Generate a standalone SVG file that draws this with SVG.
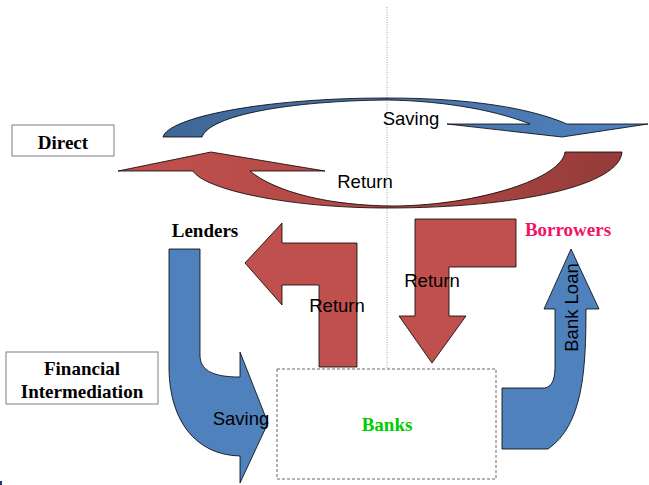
<svg xmlns="http://www.w3.org/2000/svg" width="649" height="485" viewBox="0 0 649 485">
<style>
.lbl{font-family:"Liberation Serif","Times New Roman",serif;font-weight:bold;font-size:19px;text-anchor:middle}
.atxt{font-family:"Liberation Sans",Arial,sans-serif;font-size:18.5px;fill:#000;text-anchor:middle}
.box{fill:#fff;stroke:#7f7f7f;stroke-width:1}
.arr{stroke:#000;stroke-width:0.8;stroke-linejoin:miter}
.blue{fill:#4F81BD}
.red{fill:#C0504D}
</style>
<defs>
<linearGradient id="gBlue" gradientUnits="userSpaceOnUse" x1="163" y1="0" x2="648" y2="0">
<stop offset="0" stop-color="#3F6797"/>
<stop offset="0.5" stop-color="#4874AA"/>
<stop offset="1" stop-color="#4F81BD"/>
</linearGradient>
<linearGradient id="gRed" gradientUnits="userSpaceOnUse" x1="118" y1="0" x2="622" y2="0">
<stop offset="0" stop-color="#C0504D"/>
<stop offset="0.55" stop-color="#B24845"/>
<stop offset="1" stop-color="#943B39"/>
</linearGradient>
</defs>
<rect width="649" height="485" fill="#fff"/>
<line x1="387" y1="7" x2="387" y2="369" stroke="#a0a0a0" stroke-width="1" stroke-dasharray="1,1.5"/>
<rect x="0" y="481" width="2" height="4" fill="#1F3864"/>
<g id="connectors">
<g id="direct-saving">
<path class="arr" fill="url(#gBlue)" d="M163,137 C168,118 260,98 387,98 C470,98 530,108 567,124 L648,124 L562,137 L447,124 L530,124 C500,112 450,101 387,100 C290,101 210,115 202,137 Z"/>
<text class="atxt" x="411" y="125">Saving</text>
</g>
<g id="direct-return">
<path class="arr" fill="url(#gRed)" d="M622,152 C620,185 520,208 387,208 C290,208 205,190 193,171 L118,171 L211,152 L325,171 L250,171 C275,192 330,206 395,206 C480,205 562,178 565,152 Z"/>
<text class="atxt" x="365" y="188">Return</text>
</g>
<g id="banks-return-lenders">
<polygon class="arr red" points="245,263 282,223 282,243 357,243 357,367 319,367 319,285 282,285 282,305"/>
<text class="atxt" x="337" y="312">Return</text>
</g>
<g id="borrowers-return-banks">
<polygon class="arr red" points="415,219 516,219 516,267 449,267 449,316 466,316 432,363 399,316 415,316"/>
<text class="atxt" x="432" y="287">Return</text>
</g>
<g id="lenders-saving-banks">
<path class="arr blue" d="M169,249 L200,249 L200,355 C200,370 212,377 240,377 L240,352 L268,423 L240,483 L240,456 C195,455 170,420 169,370 Z"/>
<text class="atxt" x="241" y="425">Saving</text>
</g>
<g id="banks-loan-borrowers">
<path class="arr blue" d="M571,249 L599,309 L586,309 C586,370 583,425 548,449 L502,449 L502,388 L545,388 C553,386 555,378 555,365 L555,309 L544,309 Z"/>
<text class="atxt" transform="translate(578,307.5) rotate(-90)" x="0" y="0">Bank Loan</text>
</g>
</g>
<g id="node-direct">
<rect class="box" x="12" y="125" width="102" height="31"/>
<text class="lbl" x="63" y="149" fill="#000">Direct</text>
</g>
<g id="node-financial-intermediation">
<rect class="box" x="6" y="352" width="152" height="52"/>
<text class="lbl" x="82" y="375" fill="#000">Financial</text>
<text class="lbl" x="82" y="398" fill="#000">Intermediation</text>
</g>
<g id="node-lenders">
<text class="lbl" x="205" y="237" fill="#000">Lenders</text>
</g>
<g id="node-borrowers">
<text class="lbl" x="568" y="236" fill="#F01466">Borrowers</text>
</g>
<g id="node-banks">
<rect x="277" y="369" width="219" height="110" fill="#fff" stroke="#666" stroke-width="1" stroke-dasharray="3,2"/>
<text class="lbl" x="387" y="431" fill="#00CC00">Banks</text>
</g>
</svg>
